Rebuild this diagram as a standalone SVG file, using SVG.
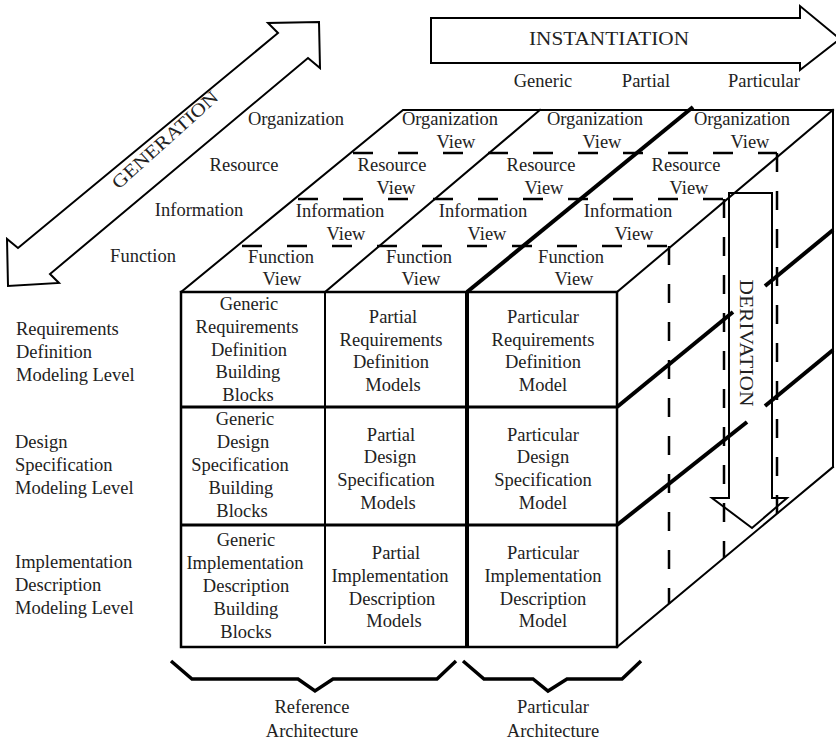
<svg xmlns="http://www.w3.org/2000/svg" width="836" height="742" viewBox="0 0 836 742">
<style>
  text { font-family: "Liberation Serif", "Times New Roman", serif; font-size: 18.5px; fill: #222; }
  .c { text-anchor: middle; }
  .ln { stroke: #000; stroke-width: 2; fill: none; stroke-linecap: square; }
  .thick { stroke: #000; stroke-width: 4; fill: none; }
  .mid { stroke: #000; stroke-width: 3; fill: none; }
  .dash { stroke: #000; stroke-width: 2.5; fill: none; stroke-dasharray: 20 25; }
  .vdash { stroke: #000; stroke-width: 2.5; fill: none; stroke-dasharray: 19 19; }
  .arrow { stroke: #000; stroke-width: 2; fill: none; stroke-linejoin: miter; }
  .brace { stroke: #000; stroke-width: 3.5; fill: none; stroke-linejoin: miter; }
</style>
<rect width="836" height="742" fill="#fff"/>

<!-- Big arrows -->
<g id="generation-arrow">
  <polygon class="arrow" points="319,22 320,68 308,58 50,274 59,283 8,286 7,239 18,248 278,33 268,23"/>
  <text class="c" x="165" y="146" transform="rotate(-42 165 140)" textLength="136" lengthAdjust="spacingAndGlyphs" font-size="19">GENERATION</text>
</g>
<g id="instantiation-arrow">
  <polygon class="arrow" points="431,18 800,18 800,6 840,39 800,70 800,63 431,63"/>
  <text class="c" x="609" y="45" textLength="160" lengthAdjust="spacingAndGlyphs" font-size="19">INSTANTIATION</text>
</g>

<!-- Instantiation level labels -->
<g id="instantiation-labels">
  <text class="c" x="543" y="87">Generic</text>
  <text class="c" x="646" y="87">Partial</text>
  <text class="c" x="764" y="87">Particular</text>
</g>

<!-- View labels (outside) -->
<g id="view-labels">
  <text class="c" x="296" y="125">Organization</text>
  <text class="c" x="244" y="171">Resource</text>
  <text class="c" x="199" y="216">Information</text>
  <text class="c" x="143" y="262">Function</text>
</g>

<!-- Level labels -->
<g id="level-labels">
  <text x="16" y="335">Requirements</text>
  <text x="16" y="358">Definition</text>
  <text x="16" y="381">Modeling Level</text>
  <text x="15" y="448">Design</text>
  <text x="15" y="471">Specification</text>
  <text x="15" y="494">Modeling Level</text>
  <text x="15" y="568">Implementation</text>
  <text x="15" y="591">Description</text>
  <text x="15" y="614">Modeling Level</text>
</g>

<!-- Cube geometry -->
<g id="cube">
  <!-- top face -->
  <polyline class="ln" points="181,292 403,110 833,110 833,467"/>
  <line class="ln" x1="325" y1="292" x2="540" y2="110"/>
  <line class="ln" x1="617" y1="292" x2="833" y2="110"/>
  <line class="thick" x1="467" y1="292" x2="693" y2="107"/>
  <line class="dash" x1="353" y1="153" x2="777" y2="153"/>
  <line class="dash" x1="298" y1="199" x2="724" y2="199"/>
  <line class="dash" x1="242" y1="246" x2="669" y2="246"/>
  <!-- right face -->
  <line class="ln" x1="617" y1="647" x2="833" y2="467"/>
  <line class="vdash" x1="669" y1="246" x2="669" y2="604"/>
  <line class="vdash" x1="724" y1="199" x2="724" y2="558"/>
  <line class="vdash" x1="777" y1="153" x2="777" y2="514"/>
  <line class="thick" x1="617" y1="407" x2="733" y2="312"/>
  <line class="thick" x1="765" y1="286" x2="833" y2="230"/>
  <line class="thick" x1="617" y1="525" x2="747" y2="422"/>
  <line class="thick" x1="765" y1="406" x2="833" y2="350"/>
  <!-- front face -->
  <rect x="181" y="292" width="436" height="355" fill="none" stroke="#000" stroke-width="2.5"/>
  <line class="ln" x1="325" y1="292" x2="325" y2="643"/>
  <line class="thick" x1="467" y1="292" x2="467" y2="647"/>
  <line class="mid" x1="181" y1="407" x2="617" y2="407"/>
  <line class="mid" x1="181" y1="525" x2="617" y2="525"/>
</g>

<!-- Top face views -->
<g id="views-generic">
  <text class="c" x="450" y="125">Organization</text><text class="c" x="456" y="148">View</text>
  <text class="c" x="392" y="171">Resource</text><text class="c" x="396" y="194">View</text>
  <text class="c" x="340" y="217">Information</text><text class="c" x="346" y="240">View</text>
  <text class="c" x="281" y="263">Function</text><text class="c" x="282" y="285">View</text>
</g>
<g id="views-partial">
  <text class="c" x="595" y="125">Organization</text><text class="c" x="602" y="148">View</text>
  <text class="c" x="541" y="171">Resource</text><text class="c" x="544" y="194">View</text>
  <text class="c" x="483" y="217">Information</text><text class="c" x="487" y="240">View</text>
  <text class="c" x="419" y="263">Function</text><text class="c" x="421" y="285">View</text>
</g>
<g id="views-particular">
  <text class="c" x="742" y="125">Organization</text><text class="c" x="750" y="148">View</text>
  <text class="c" x="686" y="171">Resource</text><text class="c" x="689" y="194">View</text>
  <text class="c" x="628" y="217">Information</text><text class="c" x="634" y="240">View</text>
  <text class="c" x="571" y="263">Function</text><text class="c" x="574" y="285">View</text>
</g>

<!-- Front face cells -->
<g id="cell-generic-req">
  <text class="c" x="249" y="310">Generic</text>
  <text class="c" x="247" y="333">Requirements</text>
  <text class="c" x="249" y="356">Definition</text>
  <text class="c" x="248" y="378">Building</text>
  <text class="c" x="248" y="401">Blocks</text>
</g>
<g id="cell-partial-req">
  <text class="c" x="393" y="323">Partial</text>
  <text class="c" x="391" y="346">Requirements</text>
  <text class="c" x="391" y="368">Definition</text>
  <text class="c" x="393" y="391">Models</text>
</g>
<g id="cell-particular-req">
  <text class="c" x="543" y="323">Particular</text>
  <text class="c" x="543" y="346">Requirements</text>
  <text class="c" x="543" y="368">Definition</text>
  <text class="c" x="543" y="391">Model</text>
</g>
<g id="cell-generic-design">
  <text class="c" x="245" y="425">Generic</text>
  <text class="c" x="243" y="448">Design</text>
  <text class="c" x="240" y="471">Specification</text>
  <text class="c" x="241" y="494">Building</text>
  <text class="c" x="242" y="517">Blocks</text>
</g>
<g id="cell-partial-design">
  <text class="c" x="391" y="441">Partial</text>
  <text class="c" x="390" y="463">Design</text>
  <text class="c" x="386" y="486">Specification</text>
  <text class="c" x="388" y="509">Models</text>
</g>
<g id="cell-particular-design">
  <text class="c" x="543" y="441">Particular</text>
  <text class="c" x="543" y="463">Design</text>
  <text class="c" x="543" y="486">Specification</text>
  <text class="c" x="543" y="509">Model</text>
</g>
<g id="cell-generic-impl">
  <text class="c" x="246" y="546">Generic</text>
  <text class="c" x="245" y="569">Implementation</text>
  <text class="c" x="246" y="592">Description</text>
  <text class="c" x="246" y="615">Building</text>
  <text class="c" x="246" y="638">Blocks</text>
</g>
<g id="cell-partial-impl">
  <text class="c" x="396" y="559">Partial</text>
  <text class="c" x="390" y="582">Implementation</text>
  <text class="c" x="392" y="605">Description</text>
  <text class="c" x="394" y="627">Models</text>
</g>
<g id="cell-particular-impl">
  <text class="c" x="543" y="559">Particular</text>
  <text class="c" x="543" y="582">Implementation</text>
  <text class="c" x="543" y="605">Description</text>
  <text class="c" x="543" y="627">Model</text>
</g>

<!-- Derivation arrow -->
<g id="derivation-arrow">
  <polygon class="arrow" points="729,193 772,193 772,498 787,498 752,528 712,498 729,498"/>
  <text class="c" x="0" y="0" transform="translate(740 343) rotate(90)" textLength="127" lengthAdjust="spacingAndGlyphs" font-size="19">DERIVATION</text>
</g>

<!-- Braces -->
<g id="reference-architecture">
  <polyline class="brace" points="171,661 192,679 298,679 315,691 333,679 437,679 456,661"/>
  <text class="c" x="312" y="713">Reference</text>
  <text class="c" x="312" y="737">Architecture</text>
</g>
<g id="particular-architecture">
  <polyline class="brace" points="463,661 484,679 533,679 548,691 567,679 622,679 641,661"/>
  <text class="c" x="553" y="713">Particular</text>
  <text class="c" x="553" y="737">Architecture</text>
</g>
</svg>
